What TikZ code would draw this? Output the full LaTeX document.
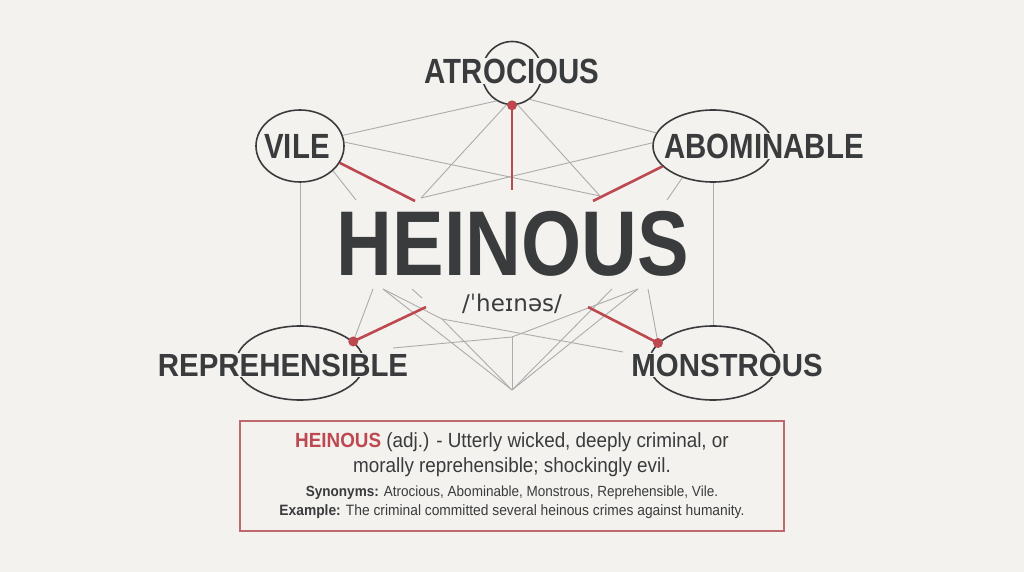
\documentclass[tikz,border=0pt]{standalone}
\usepackage{fontspec}
\setmainfont{Liberation Sans}
\newfontfamily\condfont[FakeStretch=0.84]{Liberation Sans}
\newfontfamily\widefont[FakeStretch=0.92]{Liberation Sans}
\newfontfamily\ipafont{DejaVu Sans}
\usetikzlibrary{shapes.geometric}
\definecolor{paper}{RGB}{243,242,239}
\definecolor{ink}{RGB}{58,59,61}
\definecolor{wordred}{RGB}{190,72,80}
\definecolor{wire}{RGB}{172,172,172}
\definecolor{boxred}{RGB}{190,105,110}
\begin{document}
\begin{tikzpicture}[x=1pt, y=-1pt,
    ring/.style={ellipse, draw=ink, line width=1.6pt, inner sep=0pt},
    word/.style={text=ink, fill=paper, inner sep=0.5pt, font=\condfont\bfseries\fontsize{35}{35}\selectfont},
    lowword/.style={word, font=\widefont\bfseries\fontsize{32}{32}\selectfont},
    thin/.style={draw=wire, line width=0.9pt},
    redline/.style={draw=wordred, line width=2.6pt},
    dot/.style={circle, fill=wordred, inner sep=0pt, minimum size=10pt},
    defbox/.style={draw=boxred, line width=1.2pt, minimum width=544pt, minimum height=110pt, align=center, text=ink, font=\widefont\fontsize{20.5}{25}\selectfont}]
\fill[paper] (0,0) rectangle (1024,572);
\useasboundingbox (0,0) rectangle (1024,572);

% Rings
\node[ring, minimum width=60pt, minimum height=63pt] (atrocious) at (512,73) {};
\node[ring, minimum width=88pt, minimum height=72pt] (vile) at (300,146) {};
\node[ring, minimum width=120pt, minimum height=72pt] (abominable) at (713,146) {};
\node[ring, minimum width=128pt, minimum height=74pt] (reprehensible) at (300,363) {};
\node[ring, minimum width=128pt, minimum height=74pt] (monstrous) at (713,363) {};

% Loose ends round the centre word
\coordinate (upl) at (421,198);
\coordinate (upr) at (600,196);
\coordinate (stubl) at (356,200);
\coordinate (stubr) at (667,200);
\coordinate (redvile) at (415,201);
\coordinate (redtop) at (512,190);
\coordinate (redabom) at (593,201);
\coordinate (lowl1) at (373,289);
\coordinate (lowl2) at (383,289);
\coordinate (lowl3) at (412,289);
\coordinate (lowl3b) at (422,298);
\coordinate (lowmid) at (442,319);
\coordinate (lowc) at (512,337);
\coordinate (apex) at (512,390);
\coordinate (lowr1) at (612,289);
\coordinate (lowr2) at (638,289);
\coordinate (lowr3) at (648,289);
\coordinate (nearmon) at (623,352);
\coordinate (nearrep) at (393,348);
\coordinate (redrep) at (426,307);
\coordinate (redmon) at (588,307);

% Grey web
\draw[thin] (atrocious.241) -- (vile.14);
\draw[thin] (atrocious.304) -- (abominable.167);
\draw[thin] (atrocious.260) -- (upl);
\draw[thin] (atrocious.280) -- (upr);
\draw[thin] (vile.5) -- (upr);
\draw[thin] (abominable.177) -- (upl);
\draw[thin] (vile.-37) -- (stubl);
\draw[thin] (abominable.226) -- (stubr);
\draw[thin] (vile.south) -- (reprehensible.north);
\draw[thin] (abominable.south) -- (monstrous.north);
\draw[thin] (lowl1) -- (reprehensible.22);
\draw[thin] (lowr3) -- (monstrous.160);
\draw[thin] (lowl2) -- (apex);
\draw[thin] (lowl2) -- (lowmid) -- (nearmon);
\draw[thin] (lowmid) -- (apex);
\draw[thin] (lowl3) -- (lowl3b);
\draw[thin] (nearrep) -- (lowc) -- (lowr2);
\draw[thin] (lowc) -- (apex);
\draw[thin] (lowr1) -- (apex);
\draw[thin] (lowr2) -- (apex);

% Red spokes
\draw[redline] (atrocious.south) -- (redtop);
\draw[redline] (vile.-23) -- (redvile);
\draw[redline] (abominable.202) -- (redabom);
\draw[redline] (reprehensible.22) -- (redrep);
\draw[redline] (monstrous.160) -- (redmon);

% Words
\node[word] (atrociousw) at (512,71) {ATROCIOUS};
\node[word] (vilew) at (297,146) {VILE};
\node[word] (abominablew) at (764,146) {ABOMINABLE};
\node[lowword] (reprehensiblew) at (283,365) {REPREHENSIBLE};
\node[lowword] (monstrousw) at (727,365) {MONSTROUS};

% Dots
\node[dot] (dottop) at (atrocious.south) {};
\node[dot] (dotrep) at (reprehensible.22) {};
\node[dot] (dotmon) at (monstrous.160) {};

% Centre
\node[text=ink, inner sep=0pt, font=\condfont\bfseries\fontsize{92}{92}\selectfont] (heinous) at (513,244) {HEINOUS};
\node[text=ink, inner sep=0pt, font=\ipafont\fontsize{23}{23}\selectfont] (ipa) at (512,304) {/ˈheɪnəs/};

% Definition
\node[defbox] (definition) at (512,476) {{\color{wordred}\bfseries HEINOUS} (adj.) - Utterly wicked, deeply criminal, or\\
morally reprehensible; shockingly evil.\\[-1pt]
{\fontsize{14.7}{18}\selectfont\textbf{Synonyms:} Atrocious, Abominable, Monstrous, Reprehensible, Vile.}\\[-6pt]
{\fontsize{15}{18}\selectfont\textbf{Example:} The criminal committed several heinous crimes against humanity.}};
\end{tikzpicture}
\end{document}
